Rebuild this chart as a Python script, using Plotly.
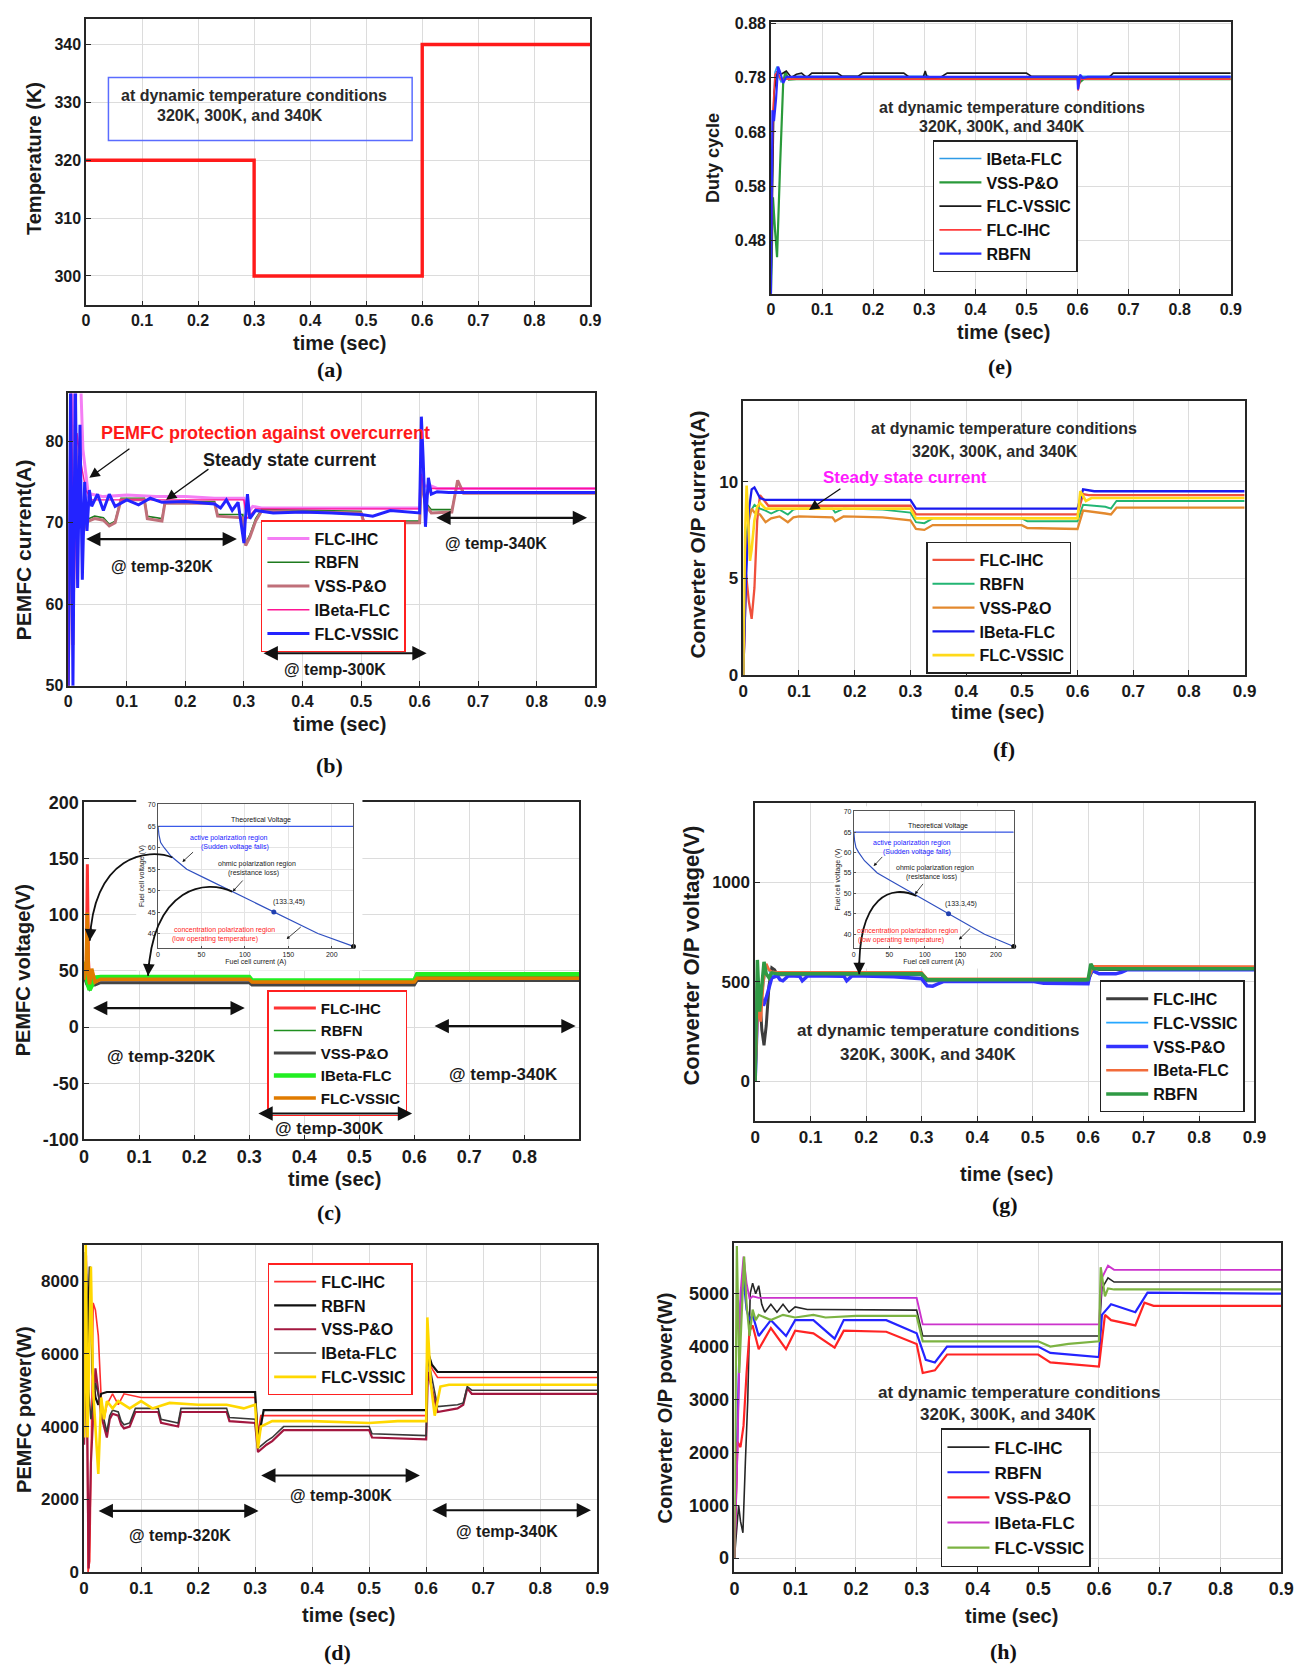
import plotly.graph_objects as go

# page geometry: the browser puts the plot div 8px in from the page corner
PAGE_W, PAGE_H = 1312, 1677
OFF = 8
FW, FH = PAGE_W - 2 * OFF, PAGE_H - 2 * OFF
SANS = "Liberation Sans, Arial, Helvetica, sans-serif"
SERIF = "Liberation Serif, Times New Roman, serif"

# ======================= DATA =======================
time_ticks = [0, 0.1, 0.2, 0.3, 0.4, 0.5, 0.6, 0.7, 0.8, 0.9]
time_ticks_c = [0, 0.1, 0.2, 0.3, 0.4, 0.5, 0.6, 0.7, 0.8]
a_yticks = [300, 310, 320, 330, 340]
e_yticks = [0.48, 0.58, 0.68, 0.78, 0.88]
b_yticks = [50, 60, 70, 80]
f_yticks = [0, 5, 10]
c_yticks = [-100, -50, 0, 50, 100, 150, 200]
g_yticks = [0, 500, 1000]
d_yticks = [0, 2000, 4000, 6000, 8000]
h_yticks = [0, 1000, 2000, 3000, 4000, 5000]
inset_xticks = [0, 50, 100, 150, 200]
inset_yticks = [40, 45, 50, 55, 60, 65, 70]

# (a) temperature profile
a_time = [0, 0.3, 0.3, 0.6, 0.6, 0.9]
a_temp = [320, 320, 300, 300, 340, 340]

# (e) duty cycle
e_t_ibeta = [0, 0.004, 0.008, 0.012, 0.016, 0.02, 0.03, 0.05, 0.3, 0.302, 0.31, 0.6, 0.602, 0.61, 0.9]
e_d_ibeta = [0.38, 0.70, 0.79, 0.80, 0.78, 0.772, 0.781, 0.782, 0.782, 0.786, 0.781, 0.781, 0.765, 0.782, 0.782]
e_t_vss = [0, 0.004, 0.008, 0.012, 0.018, 0.024, 0.028, 0.035, 0.05, 0.3, 0.6, 0.603, 0.612, 0.9]
e_d_vss = [0.38, 0.56, 0.50, 0.45, 0.62, 0.77, 0.79, 0.776, 0.777, 0.777, 0.777, 0.77, 0.777, 0.777]
e_t_vssic = [0, 0.006, 0.012, 0.02, 0.03, 0.04, 0.05, 0.06, 0.07, 0.08, 0.13, 0.14, 0.17, 0.18, 0.26,
             0.27, 0.298, 0.302, 0.306, 0.33, 0.345, 0.5, 0.51, 0.598, 0.602, 0.61, 0.66, 0.67, 0.9]
e_d_vssic = [0.38, 0.75, 0.79, 0.786, 0.792, 0.78, 0.786, 0.788, 0.78, 0.788, 0.788, 0.782, 0.782, 0.788, 0.788,
             0.781, 0.781, 0.792, 0.778, 0.779, 0.788, 0.788, 0.782, 0.782, 0.774, 0.779, 0.779, 0.788, 0.788]
e_t_ihc = [0, 0.004, 0.008, 0.012, 0.02, 0.03, 0.6, 0.601, 0.606, 0.9]
e_d_ihc = [0.38, 0.72, 0.785, 0.79, 0.776, 0.777, 0.777, 0.756, 0.777, 0.777]
e_t_rbfn = [0, 0.003, 0.006, 0.01, 0.014, 0.018, 0.024, 0.03, 0.05, 0.6, 0.601, 0.605, 0.61, 0.62, 0.9]
e_d_rbfn = [0.38, 0.72, 0.70, 0.74, 0.80, 0.79, 0.77, 0.781, 0.781, 0.781, 0.758, 0.785, 0.779, 0.781, 0.781]

# (b) PEMFC current
b_t_ihc = [0, 0.005, 0.01, 0.015, 0.02, 0.025, 0.03, 0.035, 0.04, 0.06, 0.1, 0.15, 0.2, 0.25, 0.3,
           0.305, 0.315, 0.33, 0.4, 0.5, 0.6, 0.603, 0.608, 0.62, 0.63, 0.9]
b_i_ihc = [50, 90, 80, 90, 90, 79, 76, 73, 73.5, 73.2, 73.4, 73.2, 73.2, 73, 73,
           71, 72, 71.8, 71.8, 71.8, 71.8, 76.5, 74.5, 74.5, 74.2, 74.2]
b_t_rb = [0, 0.004, 0.008, 0.012, 0.016, 0.02, 0.025, 0.03, 0.035, 0.045, 0.06, 0.07, 0.08, 0.09, 0.13,
          0.135, 0.16, 0.165, 0.25, 0.255, 0.298, 0.303, 0.31, 0.32, 0.33, 0.5, 0.505, 0.6, 0.603, 0.61,
          0.62, 0.655, 0.665, 0.675, 0.9]
b_i_rbfn = [50, 80, 55, 82, 70, 73, 69, 70.5, 70.5, 70.8, 70.6, 69.8, 70.2, 73, 73,
            70.8, 70.5, 72.6, 72.6, 71, 71, 67.5, 68.5, 70.5, 71.6, 71.4, 70.2, 70.2, 75.5, 72.5,
            71.6, 71.6, 75, 73.8, 73.8]
b_i_vss = [50, 80, 55, 82, 70, 72.5, 68.5, 70.2, 70.2, 70.5, 70.3, 69.6, 70, 72.8, 72.8,
           70.5, 70.2, 72.4, 72.4, 70.8, 70.6, 67.2, 68.2, 70.2, 71.4, 71.2, 70, 70, 75.2, 72.2,
           71.2, 71.3, 75.2, 73.6, 73.6]
b_t_ibeta = [0, 0.005, 0.01, 0.015, 0.02, 0.03, 0.04, 0.1, 0.3, 0.305, 0.32, 0.6, 0.603, 0.61, 0.62, 0.9]
b_i_ibeta = [50, 88, 60, 81, 78, 74, 72.8, 72.8, 72.8, 70.5, 71.7, 71.7, 76, 73, 74.2, 74.2]
b_t_vssic = [0, 0.004, 0.008, 0.012, 0.016, 0.02, 0.024, 0.028, 0.032, 0.036, 0.04, 0.05, 0.06, 0.07, 0.08,
             0.1, 0.12, 0.14, 0.16, 0.2, 0.25, 0.26, 0.27, 0.28, 0.29, 0.3, 0.302, 0.306, 0.31, 0.32,
             0.35, 0.4, 0.45, 0.5, 0.52, 0.55, 0.6, 0.603, 0.606, 0.61, 0.615, 0.62, 0.63, 0.65, 0.9]
b_i_vssic = [50, 88, 50, 88, 62, 82, 63, 75, 69, 74, 72, 73.5, 71.5, 73.5, 72,
             72.8, 72.2, 73, 72.5, 72.6, 72.3, 71.8, 72.8, 71.5, 72.5, 67.5, 70, 73.5, 70.5, 71.5,
             71.2, 71.3, 71.2, 71, 70.8, 71.5, 71.2, 83, 78, 69.5, 75.5, 73.5, 73.8, 73.7, 73.7]

# (f) converter output current
f_t_ihc = [0, 0.005, 0.01, 0.015, 0.02, 0.025, 0.03, 0.035, 0.045, 0.3, 0.31, 0.6, 0.61, 0.62, 0.9]
f_i_ihc = [0, 5.2, 3.8, 2.9, 4.5, 8, 9.3, 9.1, 8.75, 8.75, 8.3, 8.3, 9.35, 9.3, 9.3]
f_t_rbfn = [0, 0.005, 0.01, 0.02, 0.03, 0.04, 0.05, 0.065, 0.08, 0.09, 0.1, 0.16, 0.165, 0.18, 0.25,
            0.3, 0.31, 0.325, 0.34, 0.5, 0.51, 0.6, 0.61, 0.65, 0.66, 0.67, 0.9]
f_i_rbfn = [0, 7, 8.3, 8.8, 8.6, 8.5, 8.35, 8.55, 8.3, 8.55, 8.6, 8.6, 8.4, 8.6, 8.55,
            8.4, 7.9, 7.85, 8.1, 8.1, 7.95, 7.95, 8.8, 8.7, 8.6, 9.0, 9.0]
f_t_vss = [0, 0.005, 0.01, 0.015, 0.02, 0.03, 0.04, 0.05, 0.065, 0.08, 0.09, 0.1, 0.16, 0.165, 0.18,
           0.25, 0.3, 0.31, 0.325, 0.34, 0.5, 0.51, 0.6, 0.61, 0.65, 0.66, 0.67, 0.9]
f_i_vss = [0, 6, 8.0, 8.6, 8.4, 8.3, 7.9, 8.1, 8.2, 7.9, 8.15, 8.2, 8.15, 7.95, 8.2,
           8.15, 8.0, 7.55, 7.5, 7.75, 7.75, 7.6, 7.55, 8.5, 8.35, 8.3, 8.65, 8.65]
f_t_ibeta = [0, 0.005, 0.01, 0.015, 0.02, 0.03, 0.04, 0.3, 0.31, 0.6, 0.61, 0.62, 0.63, 0.9]
f_i_ibeta = [0, 5, 8.5, 9.6, 9.7, 9.15, 9.05, 9.05, 8.6, 8.6, 9.6, 9.55, 9.5, 9.5]
f_t_vssic = [0, 0.003, 0.006, 0.009, 0.012, 0.015, 0.02, 0.025, 0.03, 0.04, 0.3, 0.31, 0.6, 0.605, 0.615, 0.625, 0.9]
f_i_vssic = [0, 7, 9.8, 8.2, 5.9, 6.5, 8.0, 8.7, 8.9, 8.6, 8.6, 8.1, 8.1, 9.5, 9.0, 9.15, 9.15]

# (c) PEMFC voltage
c_t_ihc = [0, 0.004, 0.006, 0.008, 0.01, 0.012, 0.015, 0.02, 0.03, 0.3, 0.305, 0.6, 0.605, 0.9]
c_v_ihc = [45, 50, 145, 60, 42, 48, 40, 42, 42, 42, 39.5, 39.5, 44, 44]
c_t_rbfn = [0, 0.005, 0.01, 0.015, 0.02, 0.3, 0.305, 0.6, 0.605, 0.9]
c_v_rbfn = [50, 40, 38, 42, 43, 43, 40.5, 40.5, 45, 45]
c_t_vss = [0, 0.005, 0.01, 0.015, 0.02, 0.03, 0.3, 0.305, 0.6, 0.605, 0.9]
c_v_vss = [45, 38, 34, 38, 37.5, 39.5, 39.5, 37.5, 37.5, 41.5, 41.5]
c_t_ibeta = [0, 0.003, 0.006, 0.01, 0.015, 0.02, 0.03, 0.3, 0.305, 0.6, 0.605, 0.9]
c_v_ibeta = [58, 55, 40, 33, 38, 44, 44.5, 44.5, 41.5, 41.5, 47, 47]
c_t_vssic = [0, 0.004, 0.006, 0.008, 0.01, 0.014, 0.02, 0.03, 0.3, 0.305, 0.6, 0.605, 0.9]
c_v_vssic = [42, 60, 102, 45, 38, 52, 40, 42.5, 42.5, 40, 40, 43.5, 43.5]

# (g) converter output voltage
g_t_ihc = [0, 0.004, 0.008, 0.012, 0.016, 0.02, 0.025, 0.03, 0.035, 0.04, 0.3, 0.31, 0.6, 0.61, 0.62, 0.9]
g_v_ihc = [0, 500, 450, 260, 180, 280, 480, 570, 560, 535, 535, 505, 505, 570, 562, 562]
g_t_vssic = [0, 0.004, 0.008, 0.012, 0.02, 0.03, 0.04, 0.3, 0.31, 0.6, 0.61, 0.9]
g_v_vssic = [0, 550, 480, 420, 580, 530, 535, 535, 505, 505, 565, 565]
g_t_vss = [0, 0.005, 0.01, 0.015, 0.02, 0.03, 0.04, 0.045, 0.05, 0.06, 0.08, 0.085, 0.095, 0.16, 0.165,
           0.175, 0.25, 0.3, 0.31, 0.32, 0.33, 0.34, 0.5, 0.52, 0.6, 0.605, 0.62, 0.65, 0.66, 0.67, 0.9]
g_v_vss = [0, 430, 440, 380, 420, 520, 530, 510, 505, 530, 528, 505, 530, 528, 505,
           530, 525, 515, 480, 478, 490, 502, 502, 492, 490, 560, 540, 540, 548, 560, 560]
g_t_ibeta = [0, 0.005, 0.01, 0.015, 0.02, 0.025, 0.03, 0.04, 0.3, 0.31, 0.6, 0.61, 0.9]
g_v_ibeta = [0, 380, 300, 500, 590, 560, 550, 548, 548, 515, 515, 578, 576]
g_t_rbfn = [0, 0.004, 0.008, 0.012, 0.016, 0.02, 0.025, 0.03, 0.04, 0.3, 0.31, 0.6, 0.605, 0.61, 0.9]
g_v_rbfn = [0, 610, 350, 500, 600, 540, 520, 545, 540, 540, 510, 510, 590, 565, 565]

# (d) PEMFC power
d_t_ihc = [0, 0.004, 0.007, 0.01, 0.013, 0.016, 0.02, 0.025, 0.03, 0.035, 0.04, 0.05, 0.06, 0.07, 0.1,
           0.2, 0.3, 0.305, 0.31, 0.6, 0.603, 0.61, 0.62, 0.9]
d_p_ihc = [3700, 8700, 0, 300, 3800, 7400, 7200, 6500, 4800, 4200, 4600, 4900, 4600, 4900, 4800,
           4800, 4800, 3800, 4300, 4300, 6000, 5600, 5350, 5350]
d_t_rbfn = [0, 0.003, 0.006, 0.01, 0.015, 0.02, 0.025, 0.03, 0.04, 0.05, 0.3, 0.305, 0.31, 0.315,
            0.6, 0.602, 0.61, 0.62, 0.9]
d_p_rbfn = [4000, 8800, 6300, 8400, 5500, 4800, 4600, 4900, 4950, 4950, 4950, 3600, 4000, 4450,
            4450, 6100, 5700, 5500, 5500]
d_t_low = [0, 0.004, 0.008, 0.012, 0.02, 0.03, 0.04, 0.045, 0.05, 0.06, 0.065, 0.07, 0.08, 0.09, 0.13,
           0.135, 0.165, 0.17, 0.25, 0.255, 0.3, 0.305, 0.32, 0.33, 0.35, 0.5, 0.505, 0.6, 0.603, 0.62,
           0.655, 0.665, 0.672, 0.68, 0.9]
d_p_vss = [3500, 6500, 100, 3000, 5600, 4300, 3700, 4200, 4350, 4300, 4050, 3950, 4000, 4400, 4400,
           4100, 4000, 4400, 4400, 4150, 4100, 3300, 3500, 3600, 3900, 3900, 3700, 3650, 5500, 4400,
           4500, 4600, 5050, 4900, 4900]
d_p_ibeta = [3800, 8200, 5000, 4200, 5200, 4500, 3850, 4300, 4450, 4400, 4150, 4050, 4100, 4500, 4500,
             4200, 4100, 4500, 4500, 4250, 4200, 3400, 3600, 3700, 4000, 4000, 3800, 3750, 5900, 4550,
             4600, 4650, 5100, 5000, 5000]
d_t_vssic = [0, 0.003, 0.006, 0.009, 0.012, 0.016, 0.02, 0.025, 0.03, 0.035, 0.04, 0.05, 0.06, 0.08,
             0.1, 0.12, 0.15, 0.2, 0.25, 0.28, 0.3, 0.305, 0.31, 0.33, 0.4, 0.5, 0.55, 0.6, 0.602,
             0.608, 0.615, 0.625, 0.64, 0.9]
d_p_vssic = [3700, 9000, 3700, 6000, 8400, 5000, 4000, 2700, 4800, 4200, 4700, 4500, 4700, 4500,
             4700, 4500, 4650, 4600, 4600, 4500, 4600, 3400, 4000, 4150, 4150, 4100, 4150, 4150, 7000,
             5200, 4300, 5100, 5150, 5150]

# (h) converter output power
h_t_ihc = [0, 0.004, 0.007, 0.01, 0.014, 0.018, 0.022, 0.026, 0.03, 0.035, 0.04, 0.045, 0.05, 0.06, 0.07,
           0.08, 0.09, 0.1, 0.12, 0.14, 0.16, 0.2, 0.3, 0.31, 0.6, 0.605, 0.615, 0.625, 0.9]
h_p_ihc = [0, 600, 1000, 700, 480, 1800, 3000, 5000, 5200, 5000, 5150, 4800, 4650, 4800, 4650,
           4800, 4650, 4750, 4700, 4700, 4700, 4690, 4690, 4200, 4200, 5100, 5300, 5220, 5220]
h_t_rbfn = [0, 0.005, 0.01, 0.015, 0.02, 0.025, 0.03, 0.04, 0.06, 0.085, 0.1, 0.13, 0.165, 0.18, 0.25,
            0.3, 0.315, 0.33, 0.35, 0.5, 0.52, 0.6, 0.605, 0.62, 0.66, 0.68, 0.9]
h_p_rbfn = [0, 2500, 4800, 5300, 4700, 4500, 4600, 4200, 4500, 4200, 4500, 4500, 4150, 4500, 4500,
            4250, 3750, 3700, 4000, 4000, 3880, 3800, 4600, 4800, 4650, 5020, 5000]
h_t_vss = [0, 0.005, 0.01, 0.015, 0.02, 0.025, 0.03, 0.04, 0.06, 0.085, 0.1, 0.13, 0.165, 0.18, 0.25,
           0.3, 0.31, 0.33, 0.35, 0.5, 0.52, 0.6, 0.61, 0.62, 0.66, 0.675, 0.69, 0.9]
h_p_vss = [0, 2200, 2100, 2500, 3500, 4300, 4400, 3950, 4350, 3950, 4300, 4250, 3980, 4300, 4280,
           4050, 3500, 3550, 3850, 3850, 3700, 3620, 4600, 4500, 4400, 4830, 4770, 4770]
h_t_ibeta = [0, 0.005, 0.01, 0.015, 0.02, 0.025, 0.03, 0.04, 0.3, 0.31, 0.6, 0.605, 0.615, 0.625, 0.9]
h_p_ibeta = [0, 2000, 5000, 5700, 5200, 4900, 4950, 4920, 4920, 4420, 4420, 5300, 5530, 5450, 5450]
h_t_vssic = [0, 0.004, 0.008, 0.012, 0.016, 0.02, 0.025, 0.03, 0.035, 0.04, 0.06, 0.08, 0.1, 0.13,
             0.15, 0.2, 0.25, 0.3, 0.31, 0.5, 0.52, 0.55, 0.6, 0.603, 0.61, 0.615, 0.625, 0.9]
h_p_vssic = [0, 5900, 3500, 4500, 5700, 4800, 4200, 4700, 4500, 4600, 4500, 4600, 4550, 4600,
             4550, 4580, 4580, 4580, 4100, 4100, 4000, 4050, 4100, 5500, 4950, 5100, 5080, 5080]

# inset: fuel-cell polarisation curve
inset_current = [0, 1, 3, 7, 15, 33, 55, 83, 133.3, 184, 225]
inset_voltage = [65, 63, 61.2, 60, 58, 55, 52.8, 50, 45, 40, 37]
theory_current = [0, 225]
theory_voltage = [65, 65]
mpp_current = [133.3]
mpp_voltage = [45]
end_current = [225]
end_voltage = [37]

# ======================= LAYOUT GEOMETRY (page pixels) =======================
PANELS = {
    'a': dict(n=1, px=(82, 593), py=(9, 299), xr=(0, 0.9), yr=(294.9, 344.4), xt=time_ticks, yt=a_yticks, fs=16),
    'e': dict(n=2, px=(776, 1242), py=(12, 287), xr=(0, 0.9), yr=(0.383, 0.882), xt=time_ticks, yt=e_yticks, fs=16),
    'b': dict(n=3, px=(64, 598), py=(388, 684), xr=(0, 0.9), yr=(50, 85.85), xt=time_ticks, yt=b_yticks, fs=16),
    'f': dict(n=4, px=(748, 1256), py=(396, 673), xr=(0, 0.9), yr=(0, 14.15), xt=time_ticks, yt=f_yticks, fs=17),
    'c': dict(n=5, px=(80, 582), py=(802, 1143), xr=(0, 0.9), yr=(-100, 200), xt=time_ticks_c, yt=c_yticks, fs=18),
    'g': dict(n=6, px=(760, 1266), py=(803, 1124), xr=(0, 0.9), yr=(-198, 1397), xt=time_ticks, yt=g_yticks, fs=17),
    'd': dict(n=7, px=(80, 600), py=(1250, 1581), xr=(0, 0.9), yr=(0, 8990), xt=time_ticks, yt=d_yticks, fs=17),
    'h': dict(n=8, px=(739, 1293), py=(1248, 1581), xr=(0, 0.9), yr=(-263, 5957), xt=time_ticks, yt=h_yticks, fs=18),
}


def ids(n):
    return ('x' if n == 1 else f'x{n}', 'y' if n == 1 else f'y{n}')


def fx(p):
    return (p - OFF) / FW


def fy(p):
    return 1 - (p - OFF) / FH


def dom_x(px):
    return [fx(px[0]), fx(px[1])]


def dom_y(py):
    return [fy(py[1]), fy(py[0])]


def paper_x(p, t):
    P = PANELS[p]
    return fx(P['px'][0] + (t - P['xr'][0]) / (P['xr'][1] - P['xr'][0]) * (P['px'][1] - P['px'][0]))


def paper_y(p, v):
    P = PANELS[p]
    return fy(P['py'][0] + (P['yr'][1] - v) / (P['yr'][1] - P['yr'][0]) * (P['py'][1] - P['py'][0]))


def pp(x, y):
    return fx(x), fy(y)


fig = go.Figure()
layout = {}
annotations = []
shapes = []


def bold(size, color='#1a1a1a', family=SANS):
    return dict(family=family, size=size, color=color, weight='bold')


def add_series(p, t, v, name, color, width, legend):
    assert len(t) == len(v), name
    xa, ya = ids(PANELS[p]['n'])
    fig.add_trace(go.Scatter(x=t, y=v, mode='lines', name=name, line=dict(color=color, width=width),
                             xaxis=xa, yaxis=ya, legend=legend, showlegend=legend is not None,
                             hoverinfo='skip'))


for key, P in PANELS.items():
    n = P['n']
    xa, ya = ids(n)
    common = dict(showline=True, mirror=True, linecolor='#262626', linewidth=1.5, ticks='inside',
                  ticklen=5, tickwidth=1, tickcolor='#262626', showgrid=True, gridcolor='#dcdcdc',
                  gridwidth=1, zeroline=False, fixedrange=True, tickfont=bold(P['fs']))
    layout['xaxis' if n == 1 else f'xaxis{n}'] = dict(
        domain=dom_x(P['px']), range=list(P['xr']), anchor=ya, tickvals=P['xt'],
        ticktext=[f'{v:g}' for v in P['xt']], **common)
    layout['yaxis' if n == 1 else f'yaxis{n}'] = dict(
        domain=dom_y(P['py']), range=list(P['yr']), anchor=xa, tickvals=P['yt'],
        ticktext=[f'{v:g}' for v in P['yt']], **common)

# ---- (a)
add_series('a', a_time, a_temp, 'Temperature', '#ff1a1a', 3.4, None)
# ---- (e)
LE = 'legend'
add_series('e', e_t_ibeta, e_d_ibeta, 'IBeta-FLC', '#2e9be6', 1.6, LE)
add_series('e', e_t_vss, e_d_vss, 'VSS-P&O', '#2a9a3a', 2.2, LE)
add_series('e', e_t_vssic, e_d_vssic, 'FLC-VSSIC', '#1a1a1a', 1.6, LE)
add_series('e', e_t_ihc, e_d_ihc, 'FLC-IHC', '#ff3b3b', 1.6, LE)
add_series('e', e_t_rbfn, e_d_rbfn, 'RBFN', '#2b2bff', 2.2, LE)
# ---- (b)
LB = 'legend2'
add_series('b', b_t_ihc, b_i_ihc, 'FLC-IHC', '#f47ef4', 3, LB)
add_series('b', b_t_rb, b_i_rbfn, 'RBFN', '#1e7b1e', 1.6, LB)
add_series('b', b_t_rb, b_i_vss, 'VSS-P&O', '#c0707a', 3, LB)
add_series('b', b_t_ibeta, b_i_ibeta, 'IBeta-FLC', '#ff1493', 1.4, LB)
add_series('b', b_t_vssic, b_i_vssic, 'FLC-VSSIC', '#2323ff', 3, LB)
# ---- (f)
LF = 'legend3'
add_series('f', f_t_ihc, f_i_ihc, 'FLC-IHC', '#f0503c', 2.3, LF)
add_series('f', f_t_rbfn, f_i_rbfn, 'RBFN', '#22b573', 1.9, LF)
add_series('f', f_t_vss, f_i_vss, 'VSS-P&O', '#e3892e', 2.3, LF)
add_series('f', f_t_ibeta, f_i_ibeta, 'IBeta-FLC', '#1a1aee', 2.3, LF)
add_series('f', f_t_vssic, f_i_vssic, 'FLC-VSSIC', '#ffd919', 2.6, LF)
# ---- (c)
LC = 'legend4'
add_series('c', c_t_ihc, c_v_ihc, 'FLC-IHC', '#ff3333', 3, LC)
add_series('c', c_t_rbfn, c_v_rbfn, 'RBFN', '#1f8f1f', 1.6, LC)
add_series('c', c_t_vss, c_v_vss, 'VSS-P&O', '#444444', 3, LC)
add_series('c', c_t_ibeta, c_v_ibeta, 'IBeta-FLC', '#22ee22', 4.5, LC)
add_series('c', c_t_vssic, c_v_vssic, 'FLC-VSSIC', '#e07b00', 3.5, LC)
# ---- (g)
LG = 'legend5'
add_series('g', g_t_ihc, g_v_ihc, 'FLC-IHC', '#3d3d3d', 3, LG)
add_series('g', g_t_vssic, g_v_vssic, 'FLC-VSSIC', '#26a7ff', 1.6, LG)
add_series('g', g_t_vss, g_v_vss, 'VSS-P&O', '#3333ff', 3.5, LG)
add_series('g', g_t_ibeta, g_v_ibeta, 'IBeta-FLC', '#f26b3a', 2.6, LG)
add_series('g', g_t_rbfn, g_v_rbfn, 'RBFN', '#2f9a44', 3.5, LG)
# ---- (d)
LD = 'legend6'
add_series('d', d_t_ihc, d_p_ihc, 'FLC-IHC', '#ff2d2d', 1.6, LD)
add_series('d', d_t_rbfn, d_p_rbfn, 'RBFN', '#111111', 2.2, LD)
add_series('d', d_t_low, d_p_vss, 'VSS-P&O', '#a3173f', 2.2, LD)
add_series('d', d_t_low, d_p_ibeta, 'IBeta-FLC', '#383838', 1.6, LD)
add_series('d', d_t_vssic, d_p_vssic, 'FLC-VSSIC', '#ffd800', 2.6, LD)
# ---- (h)
LH = 'legend7'
add_series('h', h_t_ihc, h_p_ihc, 'FLC-IHC', '#262626', 1.6, LH)
add_series('h', h_t_rbfn, h_p_rbfn, 'RBFN', '#2424ff', 2.2, LH)
add_series('h', h_t_vss, h_p_vss, 'VSS-P&O', '#ff2424', 2.2, LH)
add_series('h', h_t_ibeta, h_p_ibeta, 'IBeta-FLC', '#cc33cc', 1.9, LH)
add_series('h', h_t_vssic, h_p_vssic, 'FLC-VSSIC', '#7cb342', 2.2, LH)


# ---- legends
def legend_cfg(p, t, v, border, size):
    return dict(x=paper_x(p, t), y=paper_y(p, v), xanchor='left', yanchor='top', bgcolor='white',
                bordercolor=border, borderwidth=1.5, font=bold(size, '#111'), traceorder='normal',
                itemwidth=42, tracegroupgap=0)


layout['legend'] = legend_cfg('e', 0.317, 0.665, '#222', 16)
layout['legend2'] = legend_cfg('b', 0.329, 70.33, '#ff2020', 16)
layout['legend3'] = legend_cfg('f', 0.328, 6.9, '#222', 16)
layout['legend4'] = legend_cfg('c', 0.333, 32.8, '#ff2020', 15)
layout['legend5'] = legend_cfg('g', 0.621, 507, '#222', 16)
layout['legend6'] = legend_cfg('d', 0.322, 8490, '#ff2020', 16)
layout['legend7'] = legend_cfg('h', 0.340, 2459, '#222', 17)


# ---- insets (white cover subplot + inset subplot)
def build_inset(cover_n, inset_n, cover_px, cover_py, in_px, in_py):
    cx, cy = ids(cover_n)
    fig.add_trace(go.Scatter(x=[0, 1, 1, 0, 0], y=[0, 0, 1, 1, 0], fill='toself', fillcolor='white',
                             line=dict(width=0), mode='lines', xaxis=cx, yaxis=cy, showlegend=False,
                             hoverinfo='skip'))
    layout[f'xaxis{cover_n}'] = dict(domain=dom_x(cover_px), range=[0, 1], anchor=cy, visible=False, fixedrange=True)
    layout[f'yaxis{cover_n}'] = dict(domain=dom_y(cover_py), range=[0, 1], anchor=cx, visible=False, fixedrange=True)
    ix, iy = ids(inset_n)
    fig.add_trace(go.Scatter(x=theory_current, y=theory_voltage, mode='lines', line=dict(color='#3a5ae8', width=1.2),
                             xaxis=ix, yaxis=iy, showlegend=False, hoverinfo='skip'))
    fig.add_trace(go.Scatter(x=inset_current, y=inset_voltage, mode='lines', line=dict(color='#3050c0', width=1.2),
                             xaxis=ix, yaxis=iy, showlegend=False, hoverinfo='skip'))
    fig.add_trace(go.Scatter(x=mpp_current, y=mpp_voltage, mode='markers', marker=dict(color='#2040b0', size=5),
                             xaxis=ix, yaxis=iy, showlegend=False, hoverinfo='skip', cliponaxis=False))
    fig.add_trace(go.Scatter(x=end_current, y=end_voltage, mode='markers', marker=dict(color='#111', size=5),
                             xaxis=ix, yaxis=iy, showlegend=False, hoverinfo='skip', cliponaxis=False))
    ic = dict(showline=True, mirror=True, linecolor='#555', linewidth=1, ticks='inside', ticklen=2,
              tickcolor='#555', showgrid=True, gridcolor='#e4e4e4', zeroline=False, fixedrange=True,
              tickfont=dict(family=SANS, size=7, color='#222'))
    layout[f'xaxis{inset_n}'] = dict(domain=dom_x(in_px), range=[0, 225], anchor=iy, tickvals=inset_xticks,
                                     ticktext=[str(v) for v in inset_xticks],
                                     title=dict(text='Fuel cell current (A)', font=dict(family=SANS, size=7, color='#222'), standoff=2),
                                     **ic)
    layout[f'yaxis{inset_n}'] = dict(domain=dom_y(in_py), range=[36.7, 70.1], anchor=ix, tickvals=inset_yticks,
                                     ticktext=[str(v) for v in inset_yticks],
                                     title=dict(text='Fuel cell voltage (V)', font=dict(family=SANS, size=7, color='#222'), standoff=2),
                                     **ic)
    small = [
        ('Theoretical Voltage', 119, 66.4, '#111'),
        ('active polarization region', 82, 62.3, '#1a1aff'),
        ('(Sudden voltage falls)', 89, 60.2, '#1a1aff'),
        ('ohmic polarization region', 114, 56.2, '#222'),
        ('(resistance loss)', 110, 54.0, '#222'),
        ('(133.3,45)', 151, 47.4, '#222'),
        ('concentration polarization region', 76, 40.8, '#ff1a1a'),
        ('(low operating temperature)', 66, 38.7, '#ff1a1a'),
    ]
    for s, xx, yy, col in small:
        annotations.append(dict(x=xx, y=yy, xref=ix, yref=iy, text=s, showarrow=False,
                                font=dict(family=SANS, size=7, color=col)))
    for (x0, y0, x1, y1) in [(42, 59.3, 28, 56.7), (99, 52.7, 86, 49.8), (166, 41.8, 148, 38.7)]:
        annotations.append(dict(x=x1, y=y1, ax=x0, ay=y0, xref=ix, yref=iy, axref=ix, ayref=iy, text='',
                                showarrow=True, arrowhead=2, arrowsize=0.8, arrowwidth=0.8, arrowcolor='#111'))


build_inset(9, 10, (133, 362), (788, 972), (155, 353), (804, 949))
build_inset(11, 12, (840, 1025), (806, 970), (860, 1022), (811, 949))


# ---- curved arrows from the insets into the main plots
def curve(p0, c1, c2, p3, tail):
    a, b, c, d = [pp(*q) for q in (p0, c1, c2, p3)]
    shapes.append(dict(type='path', xref='paper', yref='paper', layer='above',
                       path=f'M {a[0]},{a[1]} C {b[0]},{b[1]} {c[0]},{c[1]} {d[0]},{d[1]}',
                       line=dict(color='#111', width=1.8)))
    annotations.append(dict(x=d[0], y=d[1], xref='paper', yref='paper', ax=tail[0], ay=tail[1], text='',
                            showarrow=True, arrowhead=2, arrowsize=1.3, arrowwidth=1.8, arrowcolor='#111'))


curve((169.5, 857.7), (145, 848), (90, 855), (85.8, 942), (1, -14))
curve((230.1, 892.3), (205, 880), (150, 885), (144.8, 977.5), (1, -14))
curve((923.6, 896.7), (899, 885), (864, 895), (865.5, 976), (0, -14))


# ---- in-plot text and arrows
def txt(p, t, v, s, size=16, color='#1a1a1a', xanchor='center'):
    xa, ya = ids(PANELS[p]['n'])
    annotations.append(dict(x=t, y=v, xref=xa, yref=ya, text=s, showarrow=False, font=bold(size, color),
                            xanchor=xanchor, yanchor='middle'))


def arrow(p, t0, v0, t1, v1, both=False, width=2.2, size=1.3):
    xa, ya = ids(PANELS[p]['n'])
    annotations.append(dict(x=t1, y=v1, ax=t0, ay=v0, xref=xa, yref=ya, axref=xa, ayref=ya, text='',
                            showarrow=True, arrowhead=2, arrowside='end+start' if both else 'end',
                            arrowsize=size, arrowwidth=width, arrowcolor='#111', standoff=0, startstandoff=0))


# (a)
shapes.append(dict(type='rect', xref='x', yref='y', x0=0.04, x1=0.582, y0=323.4, y1=334.3,
                   line=dict(color='#5a6cff', width=1.5), layer='above'))
txt('a', 0.058, 331.2, 'at dynamic temperature conditions', 16, '#2a2a2a', 'left')
txt('a', 0.275, 327.8, '320K, 300K, and 340K', 16, '#2a2a2a')
# (e)
txt('e', 0.472, 0.725, 'at dynamic temperature conditions', 16, '#2a2a2a')
txt('e', 0.452, 0.69, '320K, 300K, and 340K', 16, '#2a2a2a')
# (b)
txt('b', 0.336, 81.0, 'PEMFC protection against overcurrent', 18, '#ff1a1a')
arrow('b', 0.107, 79.2, 0.036, 75.5, width=1.3, size=1.6)
txt('b', 0.378, 77.7, 'Steady state current', 18)
arrow('b', 0.242, 76.7, 0.167, 72.8, width=1.3, size=1.6)
arrow('b', 0.028, 68.0, 0.288, 68.0, both=True)
arrow('b', 0.331, 54.0, 0.612, 54.0, both=True)
arrow('b', 0.626, 70.6, 0.886, 70.6, both=True)
txt('b', 0.16, 64.6, '@ temp-320K')
txt('b', 0.455, 52.0, '@ temp-300K')
txt('b', 0.73, 67.4, '@ temp-340K')
# (f)
txt('f', 0.468, 12.75, 'at dynamic temperature conditions', 16, '#2a2a2a')
txt('f', 0.452, 11.55, '320K, 300K, and 340K', 16, '#2a2a2a')
txt('f', 0.291, 10.2, 'Steady state current', 17, '#ff1aff')
arrow('f', 0.177, 9.68, 0.118, 8.53, width=1.3, size=1.6)
# (c)
arrow('c', 0.0135, 16.9, 0.292, 16.9, both=True)
arrow('c', 0.314, -77, 0.596, -77, both=True)
arrow('c', 0.634, 0.9, 0.893, 0.9, both=True)
txt('c', 0.141, -25.8, '@ temp-320K', 17)
txt('c', 0.446, -90.4, '@ temp-300K', 17)
txt('c', 0.762, -42, '@ temp-340K', 17)
# (g)
txt('g', 0.33, 255, 'at dynamic temperature conditions', 17, '#2a2a2a')
txt('g', 0.311, 133, '320K, 300K, and 340K', 17, '#2a2a2a')
# (d)
arrow('d', 0.023, 1682, 0.306, 1682, both=True)
arrow('d', 0.308, 2655, 0.589, 2655, both=True)
arrow('d', 0.608, 1700, 0.889, 1700, both=True)
txt('d', 0.169, 1018, '@ temp-320K')
txt('d', 0.45, 2110, '@ temp-300K')
txt('d', 0.742, 1110, '@ temp-340K')
# (h)
txt('h', 0.468, 3123, 'at dynamic temperature conditions', 17, '#2a2a2a')
txt('h', 0.45, 2710, '320K, 300K, and 340K', 17, '#2a2a2a')

# ---- axis titles and panel labels (page pixel positions)
YTITLES = [('Temperature (K)', 30, 150, 20), ('Duty cycle', 718, 150, 18), ('PEMFC current(A)', 19, 546, 21),
           ('Converter O/P current(A)', 702, 531, 21), ('PEMFC voltage(V)', 19, 972, 20),
           ('Converter O/P voltage(V)', 696, 957, 22), ('PEMFC power(W)', 19, 1416, 20),
           ('Converter O/P power(W)', 669, 1415, 20)]
for s, x, y, size in YTITLES:
    px_, py_ = pp(x, y)
    annotations.append(dict(x=px_, y=py_, xref='paper', yref='paper', text=s, textangle=-90, showarrow=False,
                            font=bold(size), xanchor='center', yanchor='middle'))
XTITLES = [(339, 337), (1012, 326), (339, 723), (1006, 710), (334, 1183), (1015, 1178), (348, 1624), (1020, 1625)]
for x, y in XTITLES:
    px_, py_ = pp(x, y)
    annotations.append(dict(x=px_, y=py_, xref='paper', yref='paper', text='time (sec)', showarrow=False,
                            font=bold(20), xanchor='center', yanchor='middle'))
LABELS = [('(a)', 329, 364), ('(e)', 1008, 361), ('(b)', 329, 765), ('(f)', 1012, 748), ('(c)', 328, 1217),
          ('(g)', 1013, 1209), ('(d)', 337, 1662), ('(h)', 1012, 1661)]
for s, x, y in LABELS:
    px_, py_ = pp(x, y)
    annotations.append(dict(x=px_, y=py_, xref='paper', yref='paper', text=s, showarrow=False,
                            font=bold(22, '#111', SERIF), xanchor='center', yanchor='middle'))

fig.update_layout(width=FW, height=FH, autosize=False, margin=dict(l=0, r=0, t=0, b=0),
                  paper_bgcolor='white', plot_bgcolor='white', hovermode=False,
                  annotations=annotations, shapes=shapes, **layout)
fig.write_html('out.html', config={'displayModeBar': False})
